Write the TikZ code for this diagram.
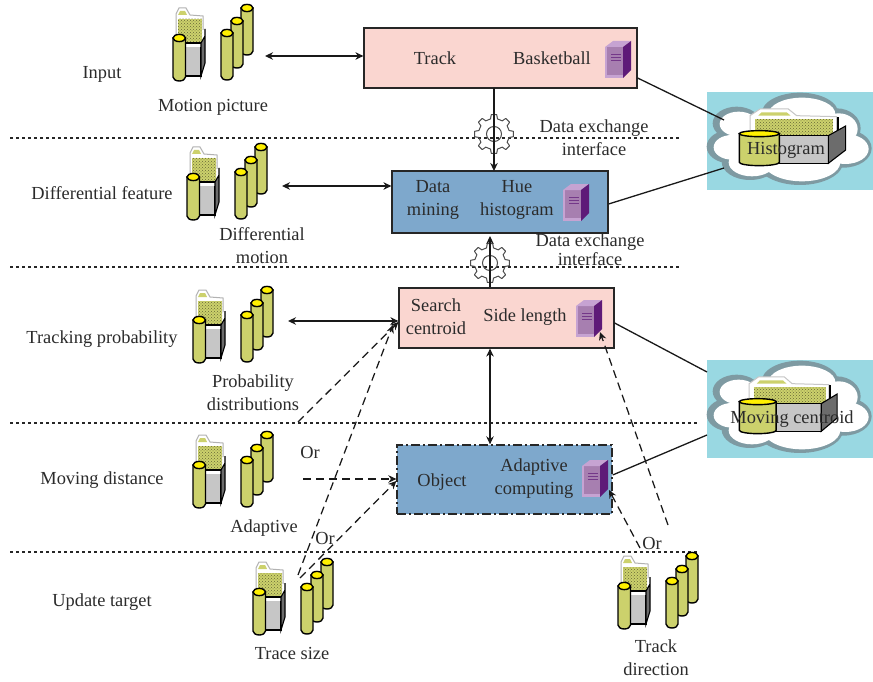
\documentclass[tikz,border=0pt]{standalone}
\usepackage{fontspec}
\setmainfont{Liberation Serif}
\usetikzlibrary{arrows.meta,patterns,shapes.geometric}
\definecolor{txt}{HTML}{2B2B2B}
\definecolor{pinkbox}{HTML}{FAD6D0}
\definecolor{bluebox}{HTML}{7EA8CC}
\definecolor{cylbody}{HTML}{CCD16C}
\definecolor{cyltop}{HTML}{FFF000}
\definecolor{sky}{HTML}{99D8E2}
\definecolor{cloudedge}{HTML}{7E9AA2}
\definecolor{srvfront}{HTML}{A77FB0}
\definecolor{srvtop}{HTML}{C6A3D2}
\definecolor{srvside}{HTML}{5E1A78}
\tikzset{
  lbl/.style={font=\fontsize{18.4}{23}\selectfont,text=txt,align=center,inner sep=0pt},
  flow/.style={draw=black!85,line width=1.2pt,fill=#1,minimum height=10pt,inner sep=0pt},
  sep/.style={line width=1.2pt,draw=black!85,dash pattern=on 2.6pt off 3.4pt},
  conn/.style={line width=1.25pt,draw=black!90,>={Stealth[length=8pt,width=7.5pt]}},
  dconn/.style={conn,dash pattern=on 8pt off 5pt},
  plain/.style={line width=1.3pt,draw=black!90},
  cylout/.style={line width=1.4pt,draw=black},
}
% cylinder: x1 x2 ytop ybot
\newcommand{\mycyl}[4]{%
  \path[cylout,fill=cylbody] (#1,#3) -- (#1,#4) arc[x radius={(#2-#1)/2},y radius=4,start angle=180,end angle=0] -- (#2,#3) -- cycle;
  \path[cylout,fill=cyltop] ({(#1+#2)/2},#3) ellipse[x radius={(#2-#1)/2},y radius=3.6];
}
\tikzset{
 datagroup/.pic={
  \fill[white] (176,45) -- (176,14) -- (179,8) -- (186,8) -- (190,15) -- (203,16) -- (203,45) -- cycle;
  \draw[gray!60,line width=1pt] (176,38) -- (176,14) -- (179,8) -- (186,8) -- (190,15) -- (203,16) -- (203,30);
  \fill[cylbody] (178,19) rectangle (202,43);
  \fill[pattern=crosshatch dots,pattern color=black!50!cylbody] (178,19) rectangle (202,43);
  \fill[cylbody] (180,11) -- (185,11) -- (187,15) -- (178,15) -- cycle;
  \path[line width=1.1pt,draw=black,fill=gray!45] (184,43) -- (201,43) -- (201,76) -- (184,76) -- cycle;
  \fill[white] (184.6,43.6) rectangle (200.5,47);
  \path[line width=1.1pt,draw=black,fill=gray!85!black] (201,43) -- (205,36) -- (205,29) -- (205,63) -- (201,76) -- cycle;
  \mycyl{173}{185.5}{38}{77}
  \mycyl{241}{253}{8}{51}
  \mycyl{231}{243}{21}{64}
  \mycyl{221}{233}{33}{76}
 },
 serverbox/.pic={
  \fill[srvfront] (0,6) rectangle (18,37);
  \fill[srvtop] (0,6) -- (8,0) -- (26,0) -- (18,6) -- cycle;
  \fill[srvside] (18,6) -- (26,0) -- (26,29) -- (18,37) -- cycle;
  \fill[srvtop] (0,34) rectangle (18,37);
  \fill[srvtop] (0,6) rectangle (2,37);
  \draw[srvside!70!srvfront,line width=0.6pt] (6,13) -- (16,13) (6,16) -- (16,16) (6,19) -- (16,19);
 },
 gearwheel/.pic={
  \draw[line width=1pt,draw=black!70,line join=round] (-13:15.5) \foreach \a in {0,45,...,315}{
     -- (\a-13:15.5) -- (\a-8:19.5) -- (\a+8:19.5) -- (\a+13:15.5) } -- cycle;
  \draw[line width=1pt,draw=black!70] (0,0) circle (7.5);
 },
}
% cloud with icon, origin ox oy, icon x-scale
\newcommand{\cloudicon}[3]{%
\begin{scope}[shift={(#1,#2)},x=0.3333pt,y=-0.3333pt]
  \fill[sky] (21,21) rectangle (519,315);
  \foreach \cx/\cy/\rx/\ry in {110/115/72/50,300/85/115/62,410/130/72/60,430/190/85/58,300/230/130/70,150/230/85/55,90/185/70/50,270/170/200/90}
    \fill[cloudedge] (\cx,\cy) ellipse[x radius=\rx,y radius=\ry];
  \foreach \cx/\cy/\rx/\ry in {110/115/72/50,300/85/115/62,410/130/72/60,430/190/85/58,300/230/130/70,150/230/85/55,90/185/70/50,270/170/200/90}
    \fill[white] (\cx+6,\cy+2) ellipse[x radius=\rx-15,y radius=\ry-13];
  \begin{scope}[xshift=118*0.3333pt,xscale=#3,xshift=-118*0.3333pt]
  \draw[gray!45,line width=1pt,fill=white] (150,150) -- (150,92) -- (180,72) -- (265,72) -- (290,92) -- (410,95) -- (410,150) -- cycle;
  \fill[cylbody] (165,103) rectangle (400,150);
  \fill[pattern=crosshatch dots,pattern color=black!50!cylbody] (165,103) rectangle (400,150);
  \fill[cylbody] (185,82) -- (260,82) -- (272,92) -- (175,92) -- cycle;
  \fill[black] (410,95) rectangle (417,145);
  \path[line width=1.1pt,draw=black,fill=gray!45] (235,152) rectangle (385,235);
  \path[line width=1.1pt,draw=black,fill=gray!85!black] (385,152) -- (437,123) -- (437,195) -- (385,235) -- cycle;
  \path[cylout,fill=cylbody] (118,146) -- (118,232) arc[x radius=60,y radius=10,start angle=180,end angle=0] -- (238,146) -- cycle;
  \path[cylout,fill=cyltop] (178,146) ellipse[x radius=60,y radius=9];
  \end{scope}
\end{scope}}
\begin{document}
\begin{tikzpicture}[x=1pt,y=-1pt]
\useasboundingbox (0,0) rectangle (873,682);
\fill[white] (0,0) rectangle (873,682);

% separators
\coordinate (s1a) at (10,138);  \coordinate (s1b) at (681,138);
\coordinate (s2a) at (10,267);  \coordinate (s2b) at (679,267);
\coordinate (s3a) at (10,423);  \coordinate (s3b) at (697,423);
\coordinate (s4a) at (10,552);  \coordinate (s4b) at (697,552);
\draw[sep] (s1a) -- (s1b);
\draw[sep] (s2a) -- (s2b);
\draw[sep] (s3a) -- (s3b);
\draw[sep] (s4a) -- (s4b);

% clouds
\cloudicon{700}{85}{1}
\cloudicon{700}{353}{0.92}

% boxes
\node[flow=pinkbox,minimum width=273pt,minimum height=60pt] (bTrack) at (500.5,58) {};
\node[flow=bluebox,minimum width=216pt,minimum height=62pt] (bData) at (500,202) {};
\node[flow=pinkbox,minimum width=215pt,minimum height=60pt] (bSearch) at (506.5,318) {};
\node[flow=bluebox,minimum width=215pt,minimum height=69pt,dash pattern=on 9pt off 3pt on 2pt off 3pt,line width=1.3pt] (bObject) at (504.5,479.5) {};

% box text
\node[lbl] (tTrack) at (435,58) {Track};
\node[lbl] (tBasket) at (552,58) {Basketball};
\node[lbl] (tData) at (433,200) {Data\\mining};
\node[lbl] (tHue) at (517,200) {Hue\\histogram};
\node[lbl] (tSearch) at (436,317) {Search\\centroid};
\node[lbl] (tSide) at (525,317) {Side length};
\node[lbl] (tObject) at (442,482) {Object};
\node[lbl] (tAdapt) at (534,479) {Adaptive\\computing};

% servers
\pic at (605,41) {serverbox};
\pic at (563,184) {serverbox};
\pic at (576,300) {serverbox};
\pic at (582,460) {serverbox};

% data groups
\pic at (0,0) {datagroup};
\pic at (14,139) {datagroup};
\pic at (20,282) {datagroup};
\pic at (20,427) {datagroup};
\pic at (80,554) {datagroup};
\pic at (445,548) {datagroup};

% gears
\pic at (494,134) {gearwheel};
\pic at (490,263) {gearwheel};

% labels
\node[lbl] (lInput) at (102,74) {Input};
\node[lbl] (lDiff) at (102,193) {Differential feature};
\node[lbl] (lTrack) at (102,339) {Tracking probability};
\node[lbl] (lMove) at (102,480) {Moving distance};
\node[lbl] (lUpd) at (102,602) {Update target};
\node[lbl] (lMotion) at (213,107) {Motion picture};
\node[lbl] (lDM) at (262,245.5) {Differential\\motion};
\node[lbl] (lProb) at (253,393) {Probability\\distributions};
\node[lbl] (lAdapt) at (264,528) {Adaptive};
\node[lbl] (lSize) at (292,653) {Trace size};
\node[lbl] (lDir) at (656,658) {Track\\direction};
\node[lbl] (lOr1) at (310,452) {Or};
\node[lbl] (lOr2) at (325,538) {Or};
\node[lbl] (lOr3) at (652,543) {Or};
\node[lbl] (lX1) at (594,138) {Data exchange\\interface};
\node[lbl] (lX2) at (590,250) {Data exchange\\[-4pt]interface};
\node[lbl] (lHist) at (786,150) {Histogram};
\node[lbl] (lMC) at (792,419) {Moving centroid};

% connector ends
\coordinate (gMotion) at (265,56);
\coordinate (gDiff) at (282,186);
\coordinate (gProb) at (288,321);
\coordinate (pA) at (298,422);
\coordinate (pB) at (298,575);
\coordinate (pC) at (303,479);
\coordinate (pD) at (300,578);
\coordinate (pE) at (668,525);
\coordinate (pF) at (640,548);
\coordinate (tipA) at (393,325);
\coordinate (tipS) at (600,332);
\coordinate (tipO) at (609,490);
\coordinate (tipX) at (490,236);
\coordinate (cl1) at (724,120);
\coordinate (cl2) at (724,168);
\coordinate (cl3) at (707,372);
\coordinate (cl4) at (707,435);

% solid connectors
\draw[conn,<->] (gMotion) -- (gMotion -| bTrack.west);
\draw[conn,<->] (gDiff) -- (gDiff -| bData.west);
\draw[conn,<->] (gProb) -- (gProb -| bSearch.west);
\draw[conn,->] (494,88) -- (494,171);
\draw[conn,->] (bSearch.north -| tipX) -- (tipX);
\draw[conn,<->] (bSearch.south -| tipX) -- (bObject.north -| tipX);
\draw[plain] (bTrack.east |- 0,78) -- (cl1);
\draw[plain] (bData.east |- 0,204) -- (cl2);
\draw[plain] (bSearch.east |- 0,323) -- (cl3);
\draw[plain] (bObject.east |- 0,475) -- (cl4);

% dashed connectors
\draw[dconn,->] (pA) -- (bSearch.west |- 0,322);
\draw[dconn,->] (pB) -- (tipA);
\draw[dconn,->] (pC) -- (pC -| bObject.west);
\draw[dconn,->] (pD) -- (bObject.west |- 0,481);
\draw[dconn,->] (pE) -- (tipS);
\draw[dconn,->] (pF) -- (tipO);
\end{tikzpicture}
\end{document}
